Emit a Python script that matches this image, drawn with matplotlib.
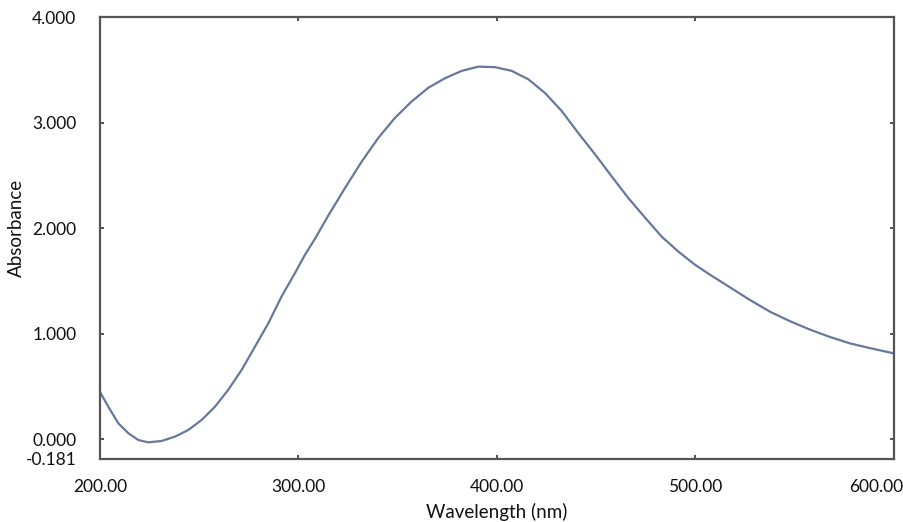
"""
UV-Vis absorbance spectrum, 200-600 nm.
"""

import matplotlib
matplotlib.use("Agg")
import matplotlib.pyplot as plt
from matplotlib.transforms import ScaledTranslation

# ── Data ──
wavelength = [200.0, 204.2, 209.2, 214.3, 219.3, 224.3, 231.1, 237.8, 244.5, 251.2,
              257.9, 264.6, 271.4, 278.1, 284.8, 291.5, 298.2, 303.3, 308.3, 315.0,
              323.4, 331.8, 340.2, 348.6, 357.0, 365.4, 373.8, 382.2, 390.6, 399.0,
              407.4, 415.8, 424.2, 432.6, 441.0, 449.4, 457.8, 466.2, 474.6, 483.0,
              491.3, 499.7, 507.3, 517.4, 527.5, 537.5, 547.6, 557.7, 567.8, 577.8,
              587.9, 600.0]
absorbance = [0.45, 0.31, 0.154, 0.059, -0.005, -0.027, -0.014, 0.027, 0.09, 0.185,
              0.31, 0.47, 0.66, 0.88, 1.10, 1.355, 1.575, 1.75, 1.90, 2.12,
              2.38, 2.63, 2.855, 3.045, 3.20, 3.33, 3.42, 3.49, 3.53, 3.525,
              3.49, 3.41, 3.28, 3.11, 2.90, 2.70, 2.49, 2.285, 2.10, 1.92,
              1.78, 1.655, 1.56, 1.44, 1.32, 1.21, 1.12, 1.04, 0.97, 0.91,
              0.865, 0.815]

x_ticks = [200, 300, 400, 500, 600]
x_tick_labels = ["200.00", "300.00", "400.00", "500.00", "600.00"]
y_ticks = [-0.181, 0.0, 1.0, 2.0, 3.0, 4.0]
y_tick_labels = ["-0.181", "0.000", "1.000", "2.000", "3.000", "4.000"]

plt.rcParams["font.family"] = ["Lato", "DejaVu Sans"]

fig = plt.figure(figsize=(9.04, 5.22), dpi=100)
ax = fig.add_axes([100 / 904, 1 - 458.6 / 522, 794 / 904, 441.6 / 522])

ax.plot(wavelength, absorbance, color="#67789b", lw=1.6,
        solid_joinstyle="round", solid_capstyle="round")

ax.set_xlim(200, 600)
ax.set_ylim(-0.181, 4.0)

ax.set_xticks(x_ticks)
ax.set_xticklabels(x_tick_labels)
ax.set_yticks(y_ticks)
ax.set_yticklabels(y_tick_labels)

ax.tick_params(axis="both", direction="in", length=3, width=1.2, color="#333333",
               top=True, right=True, labelsize=12.5, labelcolor="#111111")
ax.tick_params(axis="y", pad=17)
ax.tick_params(axis="x", pad=15)

# last x label is pulled back inside the image, as in the original
last = ax.get_xticklabels()[-1]
last.set_horizontalalignment("right")
last.set_transform(last.get_transform() + ScaledTranslation(9 / 100, 0, fig.dpi_scale_trans))

for sp in ax.spines.values():
    sp.set_color("#555555")
    sp.set_linewidth(1.6)

ax.set_ylabel("Absorbance", fontsize=13.5, color="#111111")
ax.yaxis.set_label_coords(-0.094, 0.522)
ax.set_xlabel("Wavelength (nm)", fontsize=13.5, color="#111111")
ax.xaxis.set_label_coords(0.5, -0.121)
ax.xaxis.label.set_va("center")

fig.savefig("out.png", dpi=100)
plt.close()
